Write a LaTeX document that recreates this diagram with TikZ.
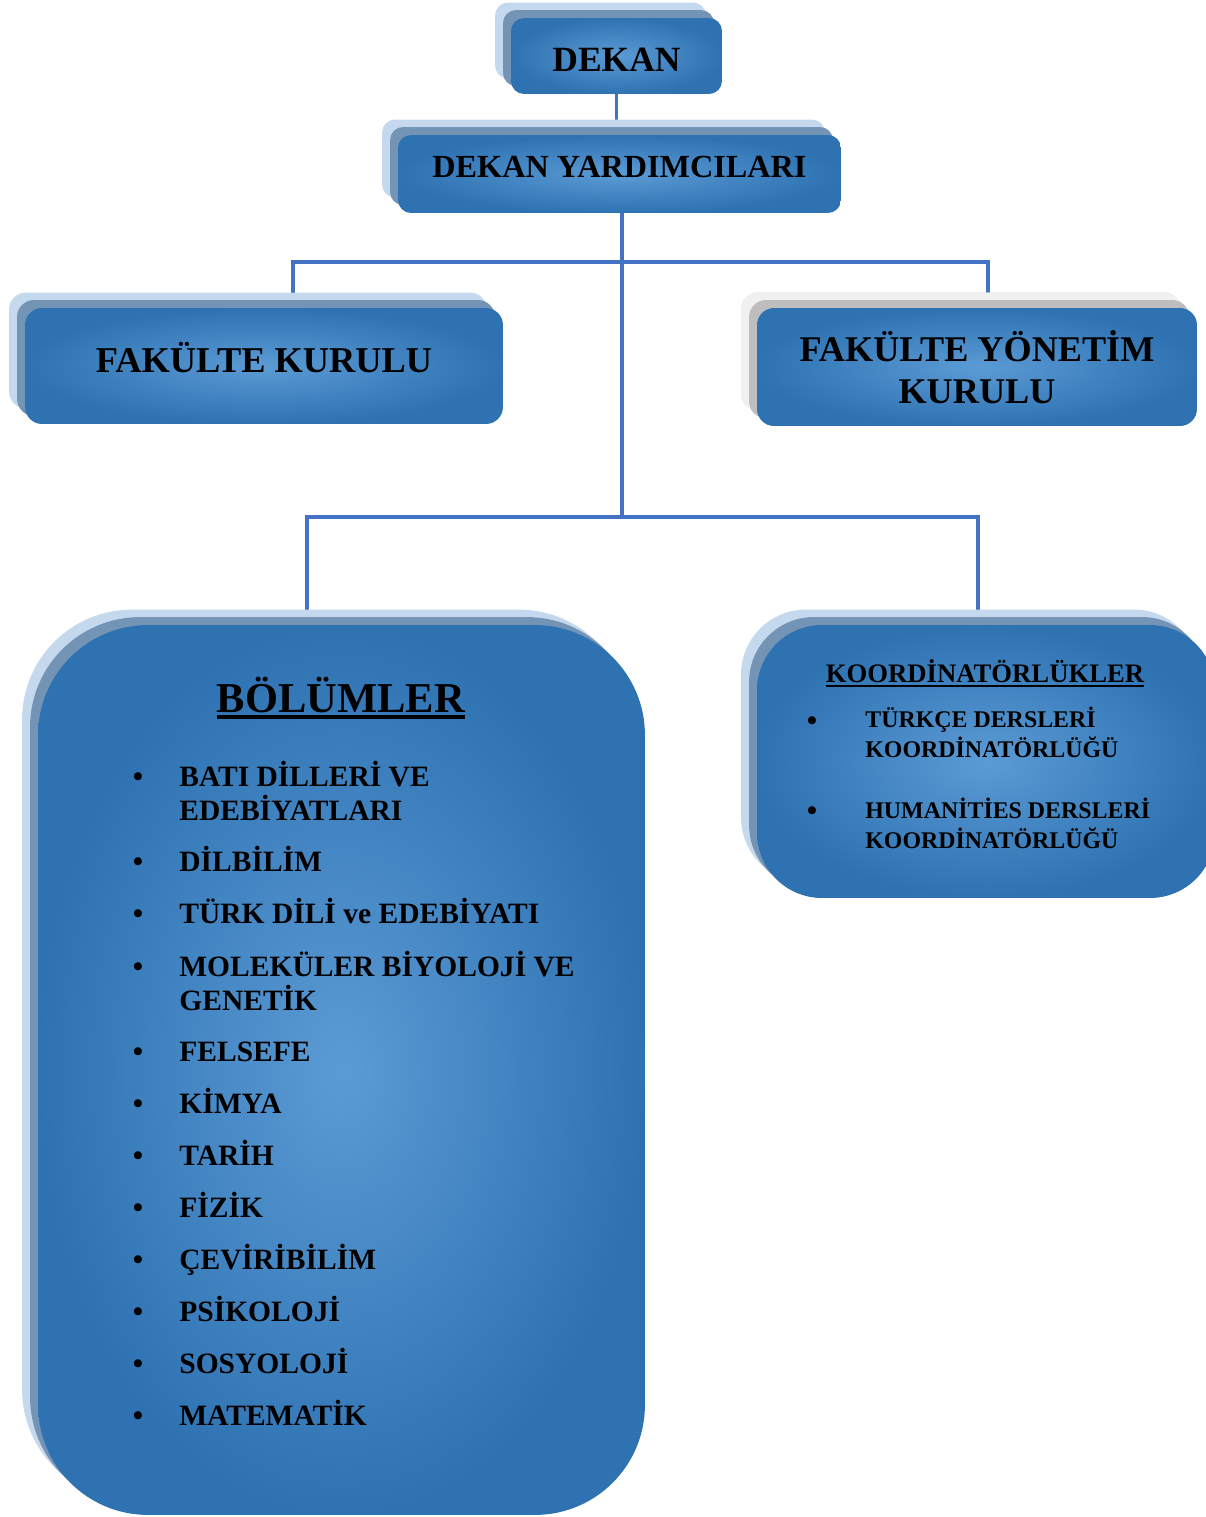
\documentclass[tikz,border=0pt]{standalone}
\usepackage{fontspec}
\setmainfont{Liberation Serif}
\usetikzlibrary{shadows, backgrounds, positioning}

\definecolor{boxmid}{HTML}{5B9BD5}
\definecolor{boxedge}{HTML}{2E72B2}
\definecolor{shadowdark}{HTML}{7394B5}
\definecolor{shadowlight}{HTML}{C5D9EE}
\definecolor{greydark}{HTML}{BEBEBE}
\definecolor{greylight}{HTML}{F0F0F0}
\definecolor{linkblue}{HTML}{4472C4}

% underline with a rule of given thickness
\newcommand\thickul[2]{\leavevmode\vtop{\hbox{#2}\kern1.4pt\hrule height #1}}

\begin{document}
\begin{tikzpicture}[
  x=0.02cm, y=-0.02cm,
  shadowpair/.style 2 args={
    general shadow={fill=#2, shadow xshift=-0.32cm, shadow yshift=0.31cm},
    general shadow={fill=#1, shadow xshift=-0.16cm, shadow yshift=0.16cm}},
  unit/.style={draw=none, inner color=boxmid, outer color=boxedge,
    rounded corners=0.26cm, align=center, shadowpair={shadowdark}{shadowlight}},
  greyunit/.style={unit, shadowpair={greydark}{greylight}},
  conn/.style={draw=linkblue, line width=2pt},
  deptitem/.style={inner sep=0pt, align=left, font=\fontsize{16.8}{19.3}\selectfont\bfseries},
  coitem/.style={inner sep=0pt, align=left, font=\fontsize{13.6}{16.6}\selectfont\bfseries}
]
  \useasboundingbox (0,0) rectangle (1205,1517);

  % Top of the chart
  \node[unit, minimum width=4.22cm, minimum height=1.52cm, text height=17.4pt, text depth=0pt,
        font=\fontsize{20.2}{24}\selectfont\bfseries] (dk) at (616.5,56) {DEKAN};
  \node[unit, minimum width=8.86cm, minimum height=1.56cm, text height=12.2pt, text depth=8pt,
        font=\fontsize{18.35}{22}\selectfont\bfseries] (dy) at (619.5,174) {DEKAN YARDIMCILARI};

  % Boards
  \node[unit, rounded corners=0.34cm, minimum width=9.56cm, minimum height=2.32cm,
        text height=17.8pt, text depth=10.9pt,
        font=\fontsize{20.7}{24}\selectfont\bfseries] (fk) at (264,366) {FAKÜLTE KURULU};
  \node[greyunit, rounded corners=0.34cm, minimum width=8.8cm, minimum height=2.36cm,
        font=\fontsize{20.6}{24}\selectfont\bfseries] (fyk) at (977,367) {FAKÜLTE YÖNETİM\\KURULU};

  % Departments
  \node[unit, rounded corners=2.2cm, minimum width=12.14cm, minimum height=17.8cm] (bl) at (341.5,1070) {};
  \node[inner sep=0pt, anchor=base, font=\fontsize{24.2}{28}\selectfont\bfseries] (blhead) at (341,712)
    {\thickul{2.6pt}{BÖLÜMLER}};
  \foreach \yb/\yt/\dept in {786/820/{BATI DİLLERİ VE\\EDEBİYATLARI}, 871/871/DİLBİLİM,
      923/923/TÜRK DİLİ ve EDEBİYATI, 976/1010/{MOLEKÜLER BİYOLOJİ VE\\GENETİK},
      1061/1061/FELSEFE, 1113/1113/KİMYA, 1165/1165/TARİH, 1217/1217/FİZİK,
      1269/1269/ÇEVİRİBİLİM, 1321/1321/PSİKOLOJİ, 1373/1373/SOSYOLOJİ, 1425/1425/MATEMATİK} {
    \node[deptitem, anchor=base] (bldot-\yb) at (138,\yb) {\textbullet};
    \node[deptitem, anchor=base west] (blitem-\yb) at (179,\yt) {\dept};
  }

  % Coordinators
  \node[unit, rounded corners=1.3cm, minimum width=9.16cm, minimum height=5.46cm] (ko) at (986,761.5) {};
  \node[inner sep=0pt, anchor=base, font=\fontsize{15.2}{17}\selectfont\bfseries] (kohead) at (985,682)
    {\thickul{1.4pt}{KOORDİNATÖRLÜKLER}};
  \foreach \yb/\yt/\co in {728/757/{TÜRKÇE DERSLERİ\\KOORDİNATÖRLÜĞÜ},
      818/848/{HUMANİTİES DERSLERİ\\KOORDİNATÖRLÜĞÜ}} {
    \node[deptitem, anchor=base] (kodot-\yb) at (812,\yb+2) {\textbullet};
    \node[coitem, anchor=base west] (koitem-\yb) at (865,\yt) {\co};
  }

  % Connectors
  \coordinate (jfk) at (293,262);
  \coordinate (jfyk) at (988,262);
  \coordinate (jmid) at (622,517);
  \coordinate (jbl) at (307,517);
  \coordinate (jko) at (978,517);
  \begin{scope}[on background layer]
    \draw[conn] (dk.south) -- (dk.south |- dy.north);
    \draw[conn] (dy.south -| jmid) -- (jmid);
    \draw[conn] (jfk |- fk.north) -- (jfk) -- (jfyk) -- (jfyk |- fyk.north);
    \draw[conn] (jbl |- bl.north) -- (jbl) -- (jko) -- (jko |- ko.north);
  \end{scope}
\end{tikzpicture}
\end{document}
